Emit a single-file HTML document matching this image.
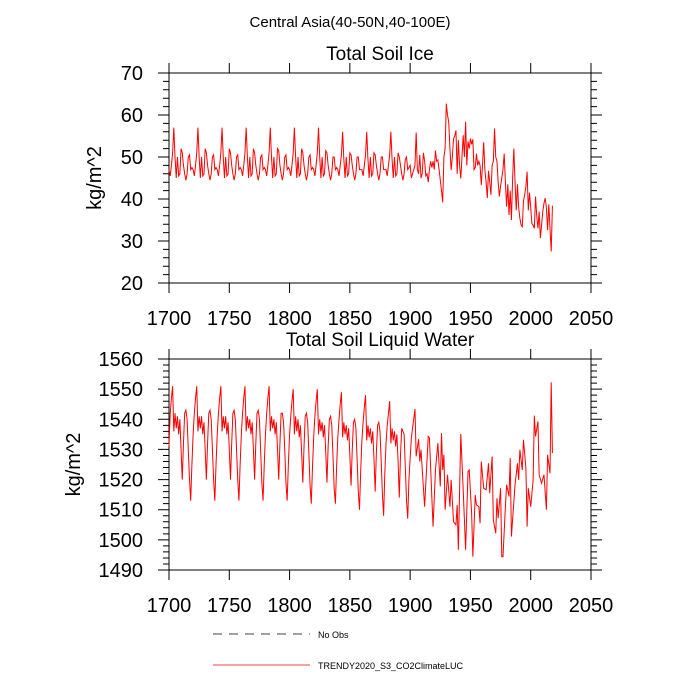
<!DOCTYPE html>
<html><head><meta charset="utf-8"><style>
body{margin:0;background:#fff}
svg{display:block;font-family:"Liberation Sans",sans-serif}
</style></head><body>
<svg id="c" width="700" height="700" viewBox="0 0 700 700">
<text x="350" y="27" font-size="15" text-anchor="middle">Central Asia(40-50N,40-100E)</text>
<g id="p1"></g>
<g id="p2"></g>
<g>
<line x1="213" y1="634" x2="310" y2="634" stroke="#000" stroke-width="0.7" stroke-dasharray="9,7"/>
<text x="318" y="638" font-size="9">No Obs</text>
<line x1="213" y1="665" x2="310" y2="665" stroke="#f00" stroke-width="0.8"/>
<text x="318" y="669" font-size="9">TRENDY2020_S3_CO2ClimateLUC</text>
</g>
</svg>
<script>
const xTicks=[1700,1750,1800,1850,1900,1950,2000,2050];
const iceTicks=[20,30,40,50,60,70];
const liqTicks=[1490,1500,1510,1520,1530,1540,1550,1560];
const iceEarly=[
47,45.5,48,51,57,50,45,50,45.5,46,52,51,48,46,44.5,46,50,50.5,47,47.5,
47,45.5,48,51,57,50,45,50,45.5,46,52,51,48,46,44.5,46,50,50.5,47,47.5,
47,45.5,48,51,57,50,45,50,45.5,46,52,51,48,46,44.5,46,50,50.5,47,47.5,
47,45.5,48,51,57,50,45,50,45.5,46,52,51,48,46,44.5,46,50,50.5,47,47.5,
47,45.5,48,51,57,50,45,50,45.5,46,52,51.5,48,46,44.5,46,50,50.5,47,47.5,
47,45.5,48,51,57,50,45,50,45.5,46,52,51,48,46,44.5,46,50,50.5,47,47.5,
47,45.5,48,51,57,50,45,50,45.5,46,51.5,51,48,46,44.5,46,50,50,47,47.5,
47,45.5,48,50.5,56,49.5,45,50,45.5,46,51,50.5,48,46,44.5,46,50,50,47,47,
47,45.5,48,50.5,56,49.5,45,50,45.5,46,51,50.5,48,46,44.5,46,50,50,47,47,
47,45.5,48,50.5,56,49.5,45,50,45.5,46,51,50,48,46,44.5,46,49.5,50,47,47.5];
const iceLateYears=[1900,1901,1902,1903,1904,1905,1906,1907,1908,1909,1910,1911,1912,1913,1914,1915,1916,1917,1918,1919,1920,1921,1922,1923,1924,1926,1927,1928,1929,1930,1931,1932,1933,1934,1935,1936,1937,1938,1939,1940,1941,1942,1943,1944,1945,1946,1947,1948,1949,1950,1951,1952,1953,1954,1955,1956,1957,1958,1959,1960,1961,1962,1963,1964,1965,1966,1967,1968,1969,1970,1971,1972,1973,1974,1975,1976,1977,1978,1979,1980,1981,1982,1983,1984,1985,1986,1987,1988,1989,1990,1991,1992,1993,1994,1995,1996,1997,1998,1999,2000,2001,2002,2003,2004,2005,2006,2007,2008,2009,2010,2011,2012,2013,2014,2015,2016,2017,2018];
const iceLate=[48,45,46,47,48,55.8,47,46,50.5,45,46,51,49,45.5,46,44,47,49,47.5,49,47,51.5,49,49.3,47,42,39.2,50,52,62.7,60,58.3,52,46.9,50,54.4,55,56.3,46,54,48,44.9,50,55.2,50,58.4,48,53.7,52,54.4,53,54.2,47,47.5,50.8,48,49,48,43.3,48,53.5,46.9,44,40.2,46.7,44,41,48,49,56.8,50,49,44,40.6,43,45,47,50.8,44,38.2,43.5,36.2,42,35,45,52,44,37.3,43.5,38,35.5,33.8,33.4,39.5,41,43,46.5,37.3,41.5,38,34.1,33.8,33,40.6,36,33,37,30.7,33.8,37,39,40.2,38,32.6,38.7,33,27.5,38.4];
const liqEarly=[
1531,1542,1547,1551,1536,1542,1537,1541,1535,1540,1530,1520,1532,1542,1543,1540,1530,1520,1513,1525,
1535,1542,1547,1551,1536,1541,1537,1541,1535,1539,1530,1520,1532,1542,1543,1540,1530,1520,1513,1525,
1535,1542,1547,1551,1536,1541,1537,1541,1535,1539,1530,1520,1532,1542,1543,1540,1530,1520,1513,1525,
1535,1542,1547,1551,1536,1541,1537,1540,1535,1539,1530,1520,1532,1542,1543,1540,1530,1519,1513,1525,
1535,1542,1547,1551,1536,1541,1537,1540,1535,1539,1530,1520,1532,1542,1542,1539,1530,1519,1513,1525,
1535,1541,1546,1550,1535,1541,1536,1540,1534,1538,1529,1519,1531,1541,1542,1539,1529,1518,1512,1524,
1534,1541,1546,1550,1535,1540,1536,1539,1534,1538,1529,1519,1531,1540,1541,1538,1528,1517,1512,1524,
1534,1540,1545,1549,1534,1539,1535,1538,1533,1537,1528,1518,1530,1539,1540,1537,1527,1516,1510,1523,
1533,1539,1544,1548,1533,1538,1534,1537,1532,1536,1527,1516,1529,1538,1539,1536,1526,1515,1508,1522,
1532,1538,1542,1546,1532,1537,1533,1536,1531,1535,1526,1514,1528,1537,1536,1535,1524,1513,1507,1520];
const liqLateYears=[1900,1901,1904,1905,1907,1908,1909,1912,1915,1916,1919,1921,1923,1925,1926,1927,1928,1929,1931,1933,1934,1936,1938,1939,1940,1942,1944,1946,1948,1949,1951,1952,1954,1955,1957,1958,1959,1961,1963,1965,1966,1968,1969,1971,1972,1973,1975,1976,1977,1979,1980,1982,1983,1984,1987,1989,1990,1991,1993,1994,1996,1997,1998,2000,2002,2003,2004,2006,2007,2009,2011,2013,2014,2016,2017,2018];
const liqLate=[1527,1533.8,1543.4,1527.7,1533.4,1526,1529.9,1511,1534.3,1533.8,1504.4,1523.2,1532.1,1517.7,1535.4,1523.2,1528.2,1510,1521.6,1511,1519.9,1506,1505,1511.6,1496.7,1535.1,1516.6,1496.7,1522.7,1523.2,1508.8,1494.4,1514.9,1511.6,1511,1505.5,1526,1517.1,1516.6,1525.4,1515.5,1527.7,1506.6,1502.2,1513.8,1507.2,1517.1,1494.4,1494.4,1511,1518.3,1514.4,1527.1,1501.1,1518.3,1525.4,1519.9,1529.9,1523.2,1533.2,1523.8,1504.4,1517.1,1511,1519.9,1541.2,1534.3,1539.3,1521.6,1518.8,1521.6,1510,1528.2,1522.1,1552.3,1528.8];

const NS='http://www.w3.org/2000/svg';
function mk(tag,attrs,parent){const e=document.createElementNS(NS,tag);for(const k in attrs)e.setAttribute(k,attrs[k]);parent.appendChild(e);return e;}
const L=169,R=591;
function xs(v){return L+(v-1700)/(2050-1700)*(R-L);}
function panel(g,top,bot,ymin,ymax,yt,minorStep,title,early,lateY,late,nm,titleX){
  const ys=v=>bot-(v-ymin)/(ymax-ymin)*(bot-top);
  const t=mk('text',{x:380,y:top-13,'font-size':19,'text-anchor':'middle'},g);t.textContent=title;
  
  
  const fr=mk('rect',{x:L,y:top,width:R-L,height:bot-top,fill:'none',stroke:'#000','stroke-width':1},g);
  
  
  let d='';
  for(const v of xTicks){const x=xs(v);d+=`M${x},${bot}v10M${x},${top}v-10`;
    const l=mk('text',{x:x,y:bot+42,'font-size':20,'text-anchor':'middle'},g);l.textContent=v;
    
    }
  for(let v=ymin;v<=ymax+1e-6;v+=minorStep){const y=ys(v);const major=yt.indexOf(v)>=0;const len=major?11:6;
    d+=`M${L},${y}h-${len}M${R},${y}h${len}`;}
  for(const v of yt){const l=mk('text',{x:L-26,y:ys(v)+7,'font-size':20,'text-anchor':'end'},g);l.textContent=v;
    
    }
  const tk=mk('path',{d:d,stroke:'#000','stroke-width':1,fill:'none'},g);
  
  
  const cy=(top+bot)/2;
  const yl=mk('text',{x:0,y:0,'font-size':20,'text-anchor':'middle',transform:`translate(${titleX},${cy}) rotate(-90)`},g);yl.textContent='kg/m^2';
  
  
  const pts=[];
  early.forEach((v,i)=>pts.push([xs(1700+i),ys(v)]));
  late.forEach((v,i)=>pts.push([xs(lateY[i]),ys(v)]));
  const ln=mk('polyline',{points:pts.map(p=>p[0].toFixed(2)+','+p[1].toFixed(2)).join(' '),fill:'none',stroke:'#f00','stroke-width':1},g);
  
  
}
panel(document.getElementById('p1'),73,283,20,70,iceTicks,2,'Total Soil Ice',iceEarly,iceLateYears,iceLate,'ice',101);
panel(document.getElementById('p2'),359,570,1490,1560,liqTicks,2,'Total Soil Liquid Water',liqEarly,liqLateYears,liqLate,'liquid',80);
</script>
</body></html>
